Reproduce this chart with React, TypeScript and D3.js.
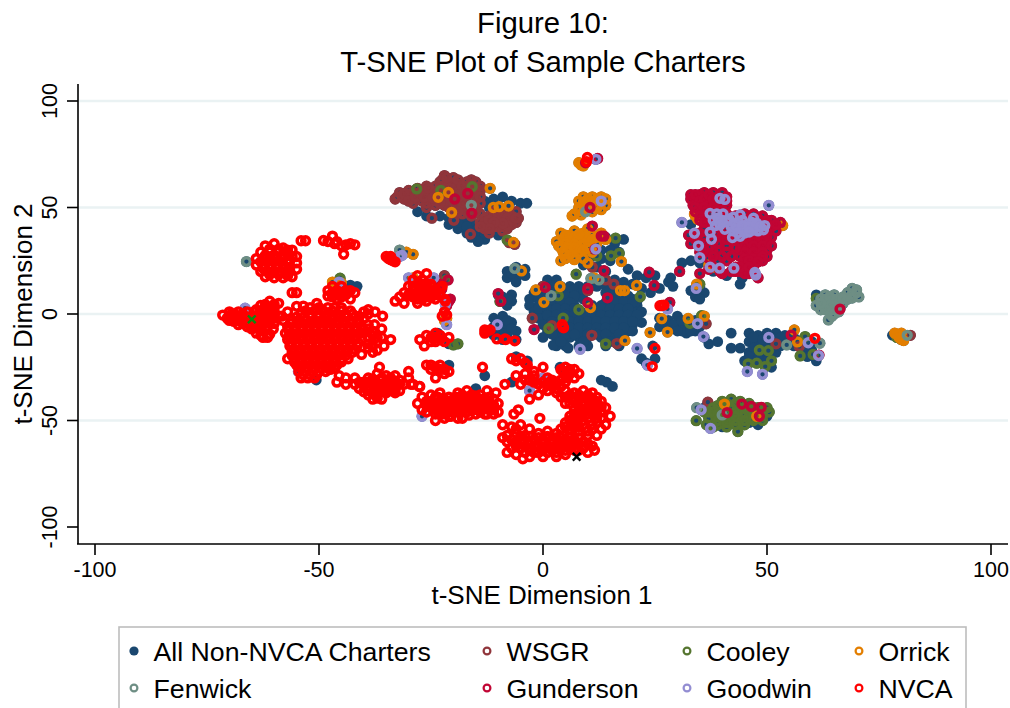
import * as d3 from "d3";

type P = number[];

const W = 1010;
const H = 708;

const xTicks = [-100, -50, 0, 50, 100];
const yTicks = [-100, -50, 0, 50, 100];
const gridTicks = [-50, 0, 50, 100];

const nonNvca: P[] = [
  // central mass
  [1,16],[3,16],[11,16],[14,16],[16,16],
  [0,13],[2,13],[4,13],[6,13],[8,13],[10,13],[12,13],[14,13],[16,13],
  [-2,10],[0,10],[2,10],[4,10],[6,10],[8,10],[14,10],[16,10],[18,10],
  [-3,7],[-1,7],[1,7],[3,7],[5,7],[7,7],[9,7],[16,7],[18,7],[20,7],
  [-3,4],[-1,4],[1,4],[3,4],[5,4],[7,4],[11,4],[13,4],[15,4],[17,4],[19,4],[21,4],
  [-2,1],[0,1],[2,1],[4,1],[6,1],[8,1],[10,1],[12,1],[14,1],[16,1],[18,1],[20,1],[22,1],
  [-1,-2],[1,-2],[3,-2],[5,-2],[7,-2],[9,-2],[11,-2],[13,-2],[15,-2],[17,-2],[19,-2],[21,-2],
  [0,-5],[2,-5],[4,-5],[6,-5],[8,-5],[10,-5],[12,-5],[14,-5],[16,-5],[18,-5],[20,-5],
  [1,-8],[3,-8],[5,-8],[7,-8],[9,-8],[11,-8],[13,-8],[15,-8],[17,-8],[19,-8],
  [0,-11],[3,-11],[6,-11],[8,-11],[10,-11],[13,-11],[16,-11],[18,-11],
  [3,-15],[5,-15],[8,-15],[10,-15],[14,-15],[17,-15],
  // above central mass, under the Orrick clump
  [12,34],[14,36],[16,33],[18,35],[13,30],[15,30],[17,29],[11,27],[13,26],[15,25],[9,23],[12,22],[14,20],
  // behind WSGR
  [-23,46],[-21,42],[-19,40],[-17,38],[-15,36],[-13,35],[-15,42],[-17,44],[-14.5,34],[-28,48],[-26,46],
  [-13,53],[-11,54],[-9,55],[-7,53],[-5,52],[-3.6,52],[-12,50],[-19,46],[-10,37],
  [-21,45],[-19,43],[-17,41],[-15,39],[-13,38],[-16,36],
  // small groups left of centre
  [-8,20],[-6,22],[-4,21],[-8,17],[-6,17],[-4,18],[-6,15],[-7,19],[-5,19],
  [-10,9],[-9,6],[-7,9],[-7,6],[-8,4],[-9,8],[-8,7],
  [-11,-2],[-9,-1],[-9,-5],[-7,-4],[-11,-6],[-8,-9],[-6,-8],[-6,-12],[-9,-12],[-11,-10],[-10,-3.5],[-8,-3],[-10,-8],[-7,-7],[-8,-11],
  [-23.5,-9],[-21,-14],[-21,-24],[-43,13.6],[-41.5,13],[-50.6,-31],
  [-6,-20],[-3.5,-22],[-13,-29],[14.2,-32],[13,-31],[15.5,-34],[3.8,-25],[-7,-32],[-15,-35],[2.3,-14.6],[5.6,-16],
  // right of centre
  [19,21],[21,18],[23,17],[25,18],[18,15],[20,14],[22,12],[24,10],[26,12],[18,9],[21,6],[28,15],[28.5,17],[29,13],
  [33,11],[35,13],[36,10],[34,8],[35,7],
  [18,-1],[20,-3],[22,-4],[18,-6],[20,-8],
  [26,-2],[28,-3],[30,-1],[32,-5],[34,-3],[36,-4],[26,-6],[28,-6],[30,-6],[32,-9],[34,-8],[36,-11],[37,-14],[31,-8],[24.5,-15],[23,-23],[22,-21],[25,-21],
  [27,-4],[29,-5],[31,-3],[33,-6],[35,-6],[30,-8],[33,-8],
  // right group
  [42,-9],[44,-16],[46,-9],[48,-10],[50,-9],[52,-9],[54,-10],[56,-11],[58,-12],[60,-13],
  [46,-13],[48,-14],[50,-14],[52,-12],[54,-13],[56,-15],[58,-17],[60,-17],
  [46,-18],[48,-19],[50,-20],[52,-18],[47,-22],[49,-23],[51,-25],[45,-22],[59,-20],[61,-22],
  [39,-13],[42,-16],[47,-11],[49,-12],[51,-11],[53,-11],[55,-12],[47,-16],[49,-17],[51,-16],[53,-15],[46,-20],[48,-21],[50,-22],
  // lower right group
  [36,-44],[38,-50],[40,-53],[42,-50],[44,-52],[46,-51],[48,-52],[50,-48],
  // gunderson backing
  [33,25],[31,24],[35,24],[44,14],[44.5,17],[41,18],[38,20],[33,42],
  // far right and Fenwick backing
  [78,-10],[80,-12],[61,9],[63,6],[65,4],
  // filling the central mass
  [1,14.5],[3,14.5],[5,11.5],[7,11.5],[9,11.5],[15,11.5],[17,11.5],[1,8.5],[3,8.5],[5,8.5],[7,8.5],[15,8.5],[17,8.5],[19,8.5],
  [0,5.5],[2,5.5],[4,5.5],[6,5.5],[14,5.5],[16,5.5],[18,5.5],[20,5.5],[-1,2.5],[1,2.5],[3,2.5],[5,2.5],[7,2.5],[11,2.5],[13,2.5],[15,2.5],[17,2.5],[19,2.5],
  [1,-0.5],[3,-0.5],[5,-0.5],[7,-0.5],[9,-0.5],[11,-0.5],[13,-0.5],[15,-0.5],[17,-0.5],[19,-0.5],[21,-0.5],
  [2,-3.5],[4,-3.5],[6,-3.5],[8,-3.5],[10,-3.5],[12,-3.5],[14,-3.5],[16,-3.5],[18,-3.5],[20,-3.5],
  [2,-6.5],[4,-6.5],[6,-6.5],[8,-6.5],[10,-6.5],[12,-6.5],[14,-6.5],[16,-6.5],[18,-6.5],
  [2,-9.5],[5,-9.5],[7,-9.5],[10,-9.5],[12,-9.5],[14,-9.5],[17,-9.5],[4,-13],[9,-13],[15,-13],
];

const wsgr: P[] = [
  [-33,54],[-32,57],[-31,54],[-30,58],[-30,55],[-29,52],[-28,56],[-28,59],[-27,53],[-26,57],[-26,60],[-26,50],
  [-25,54],[-25,58],[-24,51],[-24,56],[-24,60],[-23,62],[-22,65],[-21,62],[-21,59],[-20,64],[-19,61],[-23,58],
  [-22,55],[-20,56],[-22,51],[-20,52],[-18,58],[-18,54],[-18,50],[-16,63],[-16,59],[-16,55],[-15,62],[-14,58],
  [-14,52],[-20,48],[-18,47],[-16,46],[-14,47],[-12,46],[-12,42],[-11,48],[-10,45],[-10,41],[-9,47],[-8,43],
  [-8,40],[-7,46],[-6,43],[-6,48],[-12,38],[-14,43],[-24.8,45],[-19.9,44],[-16.2,37.5],[-6.3,32.7],[-7.5,33.5],
  [-13,40],[-11,44],[-9,41],[-7,42],
  [-2.4,-2],[2,-5.5],[10.9,-10],[16.5,-13.9],[11,22],[14,16],[15.8,14],[10,11],[0,13],[36.4,-4.6],[52,-14],[57.2,-15.3],[36.8,-41.4],[82,-10],[-22,18],
  // filling the main clump
  [-31.5,55.5],[-30.5,56.5],[-29,54],[-29,57],[-27,55],[-27,58],[-26,52],[-25,56],[-24,53],[-23,55],[-23,60],[-22,57],[-22,60],[-21,53],[-20,61],[-20,58],[-19,54],[-19,57],[-19,50],
  [-17,60],[-17,57],[-17,52],[-15,57],[-15,59],[-15,54],[-17,48],[-15,48],[-13,45],[-11,46],[-11,41],[-9,44],[-9,39],[-7,44],[-13,43],[-5.5,45],[-8,47.5],[-21,50],[-23,52],
  [-32.5,55],[-31,56.5],[-30,53],[-28.5,55],[-27.5,57],[-26.5,55],[-25.5,59],[-24.5,54.5],[-23.5,57],[-22.5,63],[-21.5,64],[-22,59],[-21,56],[-20.5,54],[-19.5,59],[-19,63],[-18,60],[-18,56],[-18,52],[-17,62],[-17,55],[-16,57],[-16,61],[-16,52],[-16,49],[-15,50],[-14,55],[-14,60],[-19,48],[-12,44],[-10,47],[-10,43],[-8,45],[-8,41.5],[-6,45],[-9,42.5],[-11,43],[-12,40],[-14,41],
];

const cooley: P[] = [
  [-28.2,58.7],[-15.8,59.8],[-22.8,58],[-8,34.7],[7.4,18.7],[16.2,35.6],[15.2,27.3],[17,28.4],[12,27.2],[3.4,8.6],
  [-9.6,5.9],[1.3,-6.8],[8,2],[14,-14],[4.5,-2],[-19,-14],[-21.5,16],[-45.3,16.8],[-20,-14.5],
  [21.7,8.1],[35.4,-0.8],[32.8,-4.4],[48.3,-17],[50.3,-17.2],[45.8,-23.4],[47.7,-23.1],[49.6,-24.7],[51,-22],[57.4,-19.7],[60.3,-19],[58.5,-10.6],[61,7.3],[35,14],
  [34.2,-50.1],[43.5,-55.2],[36,-46],[37,-49],[38,-44],[38.5,-48],[39,-52],[40,-41],[40,-45],[40.5,-49],[41,-53],[42,-40],[42,-44],[42.5,-47],[43,-50],
  [44,-41],[44,-45],[44.5,-48],[45,-52],[46,-42],[46,-46],[46.5,-49],[48,-44],[48,-47],[49,-50],[50,-44],[50.5,-46],[79,-11],[38,-53],[36.5,-52],
  // filling the lower right clump
  [37,-46],[38,-46],[39,-43],[39,-47],[39,-50],[41,-42],[41,-46],[41,-50],[43,-42],[43,-46],[43,-48],[45,-44],[45,-47],[45,-50],[47,-44],[47,-47],[47,-50],[49,-46],[49,-48],[41,-51],[43,-52],
];

const orrick: P[] = [
  [-23.4,54.8],[-21.1,57.1],[-20.4,47.7],[-11.8,59],[-11.1,50],[-9.8,50.4],[-7.7,50.7],[-6.6,33.6],[-4.8,20.2],[-1.6,11.3],[0.2,5.5],[3.8,12.9],
  [17.5,24.6],[11.4,17],[17.3,11],[18.2,11],[10.6,3],[18.3,-12.5],
  [33.8,47],[20.9,13.4],[26.5,-2.2],[32.4,-2.1],[23.9,-8.7],[27.8,-8.5],[56.1,-7.5],[56.8,-13.1],[40.5,-42.3],[47.7,-48],[53.5,41.5],[34.3,14],
  [36,-1],[34,46],[34.5,44.5],[37,23],[38,22],
  [8,53],[9,55],[10,54],[11,55],[12,54],[13,55],[14,54],[8,50],[10,51],[12,51],[14,51],[7,47],[9,48],[11,48],[13,49],
  [4,38],[5,35],[6,37],[6,33],[7,39],[8,35],[8,31],[9,38],[10,34],[10,40],[11,37],[12,33],[13,38],[14,35],[4,31],[3,34],[5,28],[6,30],[4,25],[9,26],[11,29],[10,24],[7,27],
  [8,71],[8.5,70],[9,69.5],[78.5,-9],[79.5,-10],[80,-12],[80,-9],[79.5,-11],[80.5,-12.5],[79,-9.5],[-30.5,29],[-29,28],[-45,14.5],[-47,15],[-24.2,13],[-21.5,-2],[-28,14],[-22,-3],[-29,17],
  // filling the two orange clumps
  [9,52.5],[11,52.5],[13,52.5],[8,48.5],[10,49.5],[12,49.5],[6.5,46],[8.5,46.5],[5,37],[7,36],[7,33],[9,36],[9,33],[11,35],[5,33],[4.5,29],[6,28],[8,29],[10,31],[8,37.5],[12,36],[3.5,32],[5.5,31],[7,31],[9,30],[7,25.5],[5,26],
];

const fenwick: P[] = [
  [-16,51],[9.5,48],[-32,30],[-6.3,21.4],[10.7,16.7],[1.8,8.6],[-66.2,24.6],[12.5,16],
  [54.4,-14.5],[61.8,-13.7],[40,-47.4],[34.3,-44],[81.3,-10],
  [62,7],[63,9],[64,6],[65,9],[66,7],[67,8],[68,10],[69,9],[70,11.3],[70.5,8],[69,12],[62,2],[63,4],[64,2],[65,4],[66,1],[63.7,-2.8],[64.5,-1],[67,5],[61,4],[65,7],[68,7],
  [63,7],[64,8],[66,5],[64,4],[63,2],[65,2],[65,0],[67,7],[69,7.5],[70,10],[62,5],
];

const gunderson: P[] = [
  // main clump
  [33,56],[34,54],[35,56],[36,57],[37,54],[38,57],[39,55],[40,57],[41,55],[33.5,51],[35,51],[37,51],[39,51],[41,51],[34,48],[36,48],
  [35,44],[37,44],[39,44],[41,47],[43,46],[45,47],[47,47],[49,46],[51,44],[43,43],[45,44],[47,44],[49,43],[51,41],[53,43],[52,39],
  [43,40],[45,40],[47,40],[49,40],[44,36],[46,36],[48,36],[50,36],[44,33],[46,33],[48,33],[50,33],[44,30],[46,30],[48,30],[50,30],[44,27],[46,27],[48,27],[50,27],[45,24],[47,24],[49,25],
  [36,40],[38,40],[40,37],[36,36],[38,34],[34,35],[34,37],[32.5,37],[33,33],[36,33],[39,30],[41,32],[35,29],[38,29],[41,29],[37,26],[39,25],[41,25],[30.5,20],[35,19],[39.5,20],
  [42,20],[44,20],[45,21],[46,19],[47,22],[48,17],[43,22],[40,19],[37,21],
  // filling the main clump
  [33,54],[34,56],[35,53],[36,54],[37,56],[38,54],[39,53],[40,54],[41,53],[34,50],[36,50],[38,50],[40,49],[35,46],[37,47],[39,47],[36,43],[38,42],[40,42],[42,44],
  [44,45],[46,45],[48,45],[50,44],[52,42],[44,42],[46,42],[48,42],[50,42],[44,38],[46,38],[48,38],[50,38],[51,36],[45,35],[47,35],[49,35],[45,32],[47,32],[49,32],[51,32],[45,29],[47,29],[49,29],[45,26],[47,26],[49,27],[46,25],[48,24.5],
  [37,38],[39,38],[41,37],[35,38],[35,33],[37,31],[39,33],[41,35],[36,30],[40,27],[38,27],[43,35],[43,38],[43,31],[42,27],
  [43,20],[45,19],[44,22],[46,22],[47,20],
  // scattered
  [-19.7,54],[-16.8,56.6],[-15.9,47.3],[11,41.3],[13,36.6],[13.6,36.6],[11.6,30.4],[0.5,12.5],[13.6,20.3],[14.4,7.6],[10,5.3],[-10,9.6],[-9.4,6],[-2,-7.3],[4.4,-6],[-22.7,12],[-20.7,7],[10,12],
  [23.7,19.6],[24.8,13.4],[28.3,5.4],[55.4,-9.9],[61.6,-19.3],[66.3,2.3],[41.1,-46.3],[44.4,-42.3],[46.5,-43.4],[48.7,-43.8],[48.3,-48],
  [-21,6],[-21.5,4],[-22.6,11.7],[-25,14],[-21.2,16],[-45.5,12],[12.2,73],[9.5,71],[10.5,50],[-23,14],
];

const goodwin: P[] = [
  [39.5,54.3],[40.6,53.8],[37.3,47.2],[38.8,47],[40.2,47],[44,46.5],[41,43.3],[39.5,41.8],[38.5,41.5],[40.6,39.8],[37.3,38.4],[37.6,35.1],[42.3,35.9],[34.7,32],[35,26.4],[33.8,37.9],[31,43],[50.4,51],
  [42.5,39],[44,40],[45,38],[46.6,43],[47.7,42.6],[49.2,39.5],[43.6,43.3],[45.5,41.8],[47,39.4],[44.5,44],[42,41],[45,40],[46,40.5],[48,41],[47,45],[37.3,22],[39.4,21.5],[42.6,21.5],[47.5,18.3],[47.3,19.5],
  [43,41.5],[44.5,41.5],[46,41],[48,39],[43.5,38],[46,38.5],[41.5,44.5],[42.5,45.5],[40,44],[38,44],[39,45],[48.5,41],[49.5,41.5],[44,36.5],
  [34.2,12],[27.8,2.4],[34.5,-4.5],[35.8,-10.6],[50.4,-11],[59.2,-13.5],[61.5,-19.5],[45.6,-27],[49,-28.3],[21,-16.2],[23.3,-24],[35.3,-45],[37.4,-53.7],
  [13,53],[11.8,30.5],[-32,27],[-24.4,17],[-10.2,-5],[8.3,-16.5],[11.8,72.6],[-30,17],[-45.5,15],[-66.5,2.7],[-54.6,-27],[-31.5,27.5],[0,-30],[-3,-36],[-21.5,-5],[-27,-48],[-21.8,4.5],
];

const nvca: P[] = [
  // big blob
  [-50,3],[-48,3],[-46.5,3],[-45,3],
  [-54,0],[-52,0],[-50,0],[-48,0],[-46,0],[-44,0],[-42.5,0],
  [-56,-3],[-54.5,-3],[-53,-3],[-51,-3],[-49.5,-3],[-48,-3],[-46,-3],[-44.5,-3],[-43,-3],[-41.5,-3],
  [-57,-6],[-55.5,-6],[-54,-6],[-52.5,-6],[-51,-6],[-49.5,-6],[-48,-6],[-46.5,-6],[-45,-6],[-43.5,-6],[-42,-6],[-40.5,-6],
  [-57.5,-9],[-56,-9],[-54.5,-9],[-53,-9],[-51.5,-9],[-50,-9],[-48.5,-9],[-47,-9],[-45.5,-9],[-44,-9],[-42.5,-9],[-41,-9],
  [-57,-12],[-55.5,-12],[-54,-12],[-52.5,-12],[-51,-12],[-49.5,-12],[-48,-12],[-46.5,-12],[-45,-12],[-43.5,-12],[-42,-12],[-40.5,-12],
  [-56.5,-15],[-55,-15],[-53.5,-15],[-52,-15],[-50.5,-15],[-49,-15],[-47.5,-15],[-46,-15],[-44.5,-15],[-43,-15],[-41.5,-15],
  [-56,-18],[-54.5,-18],[-53,-18],[-51.5,-18],[-50,-18],[-48.5,-18],[-47,-18],[-45.5,-18],[-44,-18],[-42.5,-18],
  [-57,-21],[-55.5,-21],[-54,-21],[-52.5,-21],[-51,-21],[-49.5,-21],[-48,-21],[-46.5,-21],[-45,-21],[-43.5,-21],
  [-55,-24],[-53.5,-24],[-52,-24],[-50.5,-24],[-49,-24],[-47.5,-24],[-46,-24],
  [-54.5,-27],[-53,-27],[-51.5,-27],[-50,-27],[-48.5,-27],
  [-54,-30],[-52.5,-30],[-51,-30],
  [-55,10],[-56,10],[-55,3.6],[-53.5,3.7],[-50.5,5],[-52,3],[-40.5,-19],
  // big blob, second pass between the rows above
  [-49,1.5],[-47,1.5],[-45,1.5],[-53,1.5],[-51,1.5],[-43,1.5],
  [-55,-1.5],[-53.3,-1.5],[-51.7,-1.5],[-50.2,-1.5],[-48.6,-1.5],[-47,-1.5],[-45.3,-1.5],[-43.8,-1.5],[-42,-1.5],
  [-56.3,-4.5],[-54.8,-4.5],[-53.2,-4.5],[-51.8,-4.5],[-50.2,-4.5],[-48.7,-4.5],[-47.2,-4.5],[-45.7,-4.5],[-44.2,-4.5],[-42.7,-4.5],[-41.2,-4.5],
  [-56.8,-7.5],[-55.2,-7.5],[-53.7,-7.5],[-52.2,-7.5],[-50.7,-7.5],[-49.2,-7.5],[-47.6,-7.5],[-46.2,-7.5],[-44.7,-7.5],[-43.2,-7.5],[-41.7,-7.5],[-40.2,-7.5],
  [-56.7,-10.5],[-55.2,-10.5],[-53.8,-10.5],[-52.2,-10.5],[-50.8,-10.5],[-49.2,-10.5],[-47.7,-10.5],[-46.3,-10.5],[-44.8,-10.5],[-43.2,-10.5],[-41.8,-10.5],
  [-56.2,-13.5],[-54.7,-13.5],[-53.2,-13.5],[-51.7,-13.5],[-50.2,-13.5],[-48.7,-13.5],[-47.2,-13.5],[-45.7,-13.5],[-44.2,-13.5],[-42.7,-13.5],[-41.2,-13.5],
  [-55.7,-16.5],[-54.2,-16.5],[-52.7,-16.5],[-51.2,-16.5],[-49.7,-16.5],[-48.2,-16.5],[-46.7,-16.5],[-45.2,-16.5],[-43.7,-16.5],[-42.2,-16.5],
  [-56,-19.5],[-54.5,-19.5],[-53,-19.5],[-51.5,-19.5],[-50,-19.5],[-48.5,-19.5],[-47,-19.5],[-45.5,-19.5],[-44,-19.5],
  [-55.5,-22.5],[-54,-22.5],[-52.5,-22.5],[-51,-22.5],[-49.5,-22.5],[-48,-22.5],[-46.5,-22.5],[-45,-22.5],
  [-54,-25.5],[-52.5,-25.5],[-51,-25.5],[-49.5,-25.5],[-48,-25.5],[-46.5,-25.5],
  [-53.5,-28.5],[-52,-28.5],[-50.5,-28.5],
  // upper left blob
  [-62,32],[-60,33],[-58,31],[-56,30],[-63,29],[-61,29],[-59,29],[-57,28],[-55,27],
  [-64,26],[-62.5,26],[-61,26],[-59.5,26],[-58,26],[-56.5,25],[-55,24],
  [-64,23],[-62.5,23],[-61,23],[-59.5,23],[-58,23],[-56.5,22],[-55,21],
  [-63,20],[-61.5,20],[-60,20],[-58.5,20],[-57,19],[-62,17.5],[-60,17],[-58,17],[-56,17.5],
  [-61,30.5],[-59,30.5],[-57,30],[-62,27.5],[-60,27.5],[-58,27.5],[-56,27],[-63,24.5],[-61.5,24.5],[-60,24.5],[-58.5,24.5],[-57,24],[-62.5,21.5],[-61,21.5],[-59.5,21.5],[-58,21.5],[-56.5,20],[-61,18.5],[-59,18.5],[-57,18],
  // far left group
  [-71.5,-0.5],[-70,1],[-69,-1],[-68,-3],[-70,-3],[-67,0],[-66,-4],[-65,-1],[-64,2],[-63,4],[-61,6],[-61,3],[-59,5],[-62,0],[-60,1],[-63,-2],[-61,-3],[-59,-1],[-58.3,-1],[-57,1],
  [-66,-6],[-64,-5],[-62,-7],[-60.2,-7],[-62.5,-11],[-64,-9],[-61,-9.5],[-68,-5],[-65,-7],[-58,-3],
  [-70,-1],[-68.5,-0.5],[-67.5,-1.5],[-66.5,-2],[-65,-3],[-63.5,0],[-62,2],[-60,3],[-61,-1],[-63,-4],[-64.5,-6],[-62.5,-5],[-63,-8],[-60,-2],[-69,-3.5],[-67,-4.5],[-62,4.5],[-60,4.5],
  [-70.5,-2],[-69.5,0],[-68,1],[-66,1],[-66,-2],[-64.5,1],[-63,1.5],[-61.5,1.5],[-60,-0.5],[-62,-2.5],[-64,-3],[-65.5,-5],[-63.5,-6.5],[-61.5,-6],[-63,-10],[-61.5,-11],[-60,-4.5],
  // top singles
  [-54,34.4],[-53,34.4],[-49,34.5],[-48,34],[-47,36.6],[-46.5,33],[-46,34],[-45,32],[-44,32.4],[-43,33],[-42,32.5],[-44.5,28],
  // -46,12 cluster
  [-48,11],[-47,13],[-46,11],[-45,13],[-44,11],[-47,8],[-45,8],[-43,7],[-42,10],[-48,8.5],[-43,11],[-47,10],[-45,10],[-44,9],[-46,7],
  // -34,26
  [-35,27],[-34.5,26],[-34,25.5],[-33.5,25],[-33,24.5],[-34,27],
  // -27,12 cluster
  [-33,6],[-32,8],[-31,10],[-30,13],[-29,16],[-28,18],[-27,16],[-29,11],[-27,12],[-25,14],[-31,5],[-29,8],[-27,9],[-25,10],[-23,9],[-24,7],[-26,6],[-28,5],[-24.5,11],[-26,19],[-23,12],
  [-28,14],[-28,10],[-26,11],[-26,14],[-30,9],[-28,7],[-26,8],[-24,9],[-27,14],[-27,7],[-25,8],[-29,13],
  // -22,3 column
  [-22,7],[-21.8,6],[-22,1],[-22.5,-1],[-21.5,-0.5],
  // right of big blob
  [-41,-1],[-39,2],[-37.5,1],[-39,0],[-35.8,-1],[-41,-4],[-39,-5],[-37.6,-5],[-36,-7],[-40,-9],[-38,-10],[-36,-11],[-34,-12],[-39,-14],[-37,-13],[-39,-16],[-37,-17],[-38,-18],[-35.5,-15],
  [-40,1],[-40,-2],[-39,-7],[-38,-8],[-39,-11],[-37,-11],[-38,-15],
  // lower band
  [-47.5,-26],[-45.5,-29],[-44,-30],[-42,-30],[-36.5,-25],[-39,-30],[-37,-28],[-35,-29],[-33,-29],[-40,-32],[-38,-32],[-36,-31],[-34,-31],[-32,-31],[-30,-30],
  [-41,-35],[-39,-35],[-37,-34],[-35,-34],[-33,-34],[-31,-33],[-29.5,-33],[-27.6,-34],[-30,-27],[-32,-36],
  [-39,-38],[-37,-38],[-35,-37],[-33,-37],[-38,-40],[-36,-40],[-42,-33],[-44,-33],[-46,-32],
  [-40,-33.5],[-38,-33.5],[-36,-33],[-34,-33],[-32,-33],[-40,-36.5],[-38,-36.5],[-36,-36],[-34,-36],[-38,-30.5],[-36,-30],[-34,-30],[-37,-39.5],
  [-41,-32],[-39,-32],[-37,-32.5],[-35,-32],[-33,-32],[-39,-36],[-37,-36],[-35,-35.5],[-33,-35.5],
  // -23,-12 and -23,-27 blobs
  [-27.5,-12],[-26.5,-15],[-26,-10],[-25,-11],[-24,-9],[-23,-10],[-24,-13],[-22,-13],[-21,-11],[-25,-13],[-24,-11],[-23,-12],
  [-26,-24],[-25,-24],[-24,-25],[-23,-26],[-22,-26],[-21,-27],[-24,-30],[-25,-26],[-23,-24],[-22,-28],
  // -19,-42 blob
  [-28,-42],[-27,-39],[-27,-45],[-26,-41],[-25,-38],[-25,-44],[-24,-47],[-23,-41],[-23,-37],[-22,-44],[-22,-49],[-21,-39],[-20,-46],[-20,-42],[-19,-37],[-19,-44],[-18,-40],[-18,-49],[-17,-46],[-17,-36],[-16,-43],[-16,-38],[-15,-47],[-15,-41],[-14,-38],[-14,-44],[-13,-47],[-13,-42],[-12,-39],[-12,-45],[-11,-43],[-10,-42],[-11,-47],[-10,-46],[-24,-50],[-19,-49],[-21,-48],[-12.5,-36],[-10.5,-37],
  [-26,-43],[-25,-41],[-24,-39],[-24,-43],[-23,-45],[-22,-40],[-22,-42],[-21,-44],[-21,-46],[-20,-40],[-19,-41],[-19,-46],[-18,-38],[-18,-43],[-18,-46],[-17,-41],[-17,-44],[-16,-40],[-16,-45],[-15,-38.5],[-15,-43],[-14,-41],[-14,-46],[-13,-39.5],[-13,-44.5],[-12,-42],[-11,-40],[-11,-45],[-24,-45],[-26,-46],
  [-25.5,-42.5],[-23.5,-43],[-22.5,-47],[-20.5,-44],[-20.5,-48],[-19.5,-39],[-17.5,-42],[-16.5,-47.5],[-15.5,-45],[-14.5,-42.5],[-12.5,-41],[-12.5,-47],[-23.5,-39],
  // -8,-27 singles
  [-29,-33],[-27.5,-34],[-13.5,-25],[0,-25],[-5.5,-45],[-6.5,-47],[-3,-40],[-0.7,-49],[15,-48],[-8.5,-33],[-7,-21],[-6,-22],[-5,-21],[-4,-23],[-3.5,-24],[-2,-27],
  // diagonal into the lower right lobe
  [-6,-29],[-5,-33],[-4,-28],[-3,-31],[-2,-29],[-1,-33],[0,-32],[1,-30],[1,-36],[2,-34],[3,-37],[3,-32],[4,-39],[5,-36],[5,-42],[-1,-38],
  [-4,-31],[-2,-32],[0,-35],[1,-33],[2,-31],[3,-35],[4,-34],[5,-32],
  // top of right lobe
  [4,-26],[5,-25],[6,-26],[7,-26],[8,-28],[5,-29],[7,-30],[4,-31],[6,-28],[4.5,-27],[5.5,-30],
  // right lobe
  [5,-39],[7,-37],[9,-36],[11,-37],[12,-39],[13,-41],[14,-44],[6,-42],[8,-40],[10,-40],[12,-43],[7,-45],[9,-43],[11,-44],[13,-46],[6,-48],[8,-47],[10,-47],[12,-49],[14,-52],[5,-51],[7,-50],[9,-50],[11,-52],[13,-54],[4,-54],[6,-54],[8,-53],[10,-55],[12,-57],
  [6,-38],[8,-38],[10,-38],[12,-41],[7,-41],[9,-41],[11,-41],[13,-43.5],[8,-44],[10,-44],[12,-46],[7,-47],[9,-46],[11,-47],[13,-49],[6,-50],[8,-49],[10,-49],[12,-51],[5,-53],[7,-52],[9,-52],[11,-54],[6,-56],[8,-55],[10,-57],
  // bottom band
  [-7,-53],[-5,-52],[-9,-52],[-3,-54],[-1,-56],[1,-55],[3,-56],[-6,-56],[-4,-57],[-2,-59],[0,-59],[2,-59],[4,-58],[6,-58],[8,-58],
  [-9,-58],[-8,-60],[-7,-59],[-5,-60],[-3,-61],[-1,-62],[1,-62],[3,-62],[5,-61],[7,-61],[9,-60],[10,-61],[11,-62],[11.5,-64],
  [-7,-63],[-5,-63],[-3,-64],[-1,-65],[1,-65],[3,-65],[5,-64],[7,-64],[9,-63],[-6,-66],[-3,-67],[0,-67],[3,-67],[5,-66],[-4.5,-68],[-8,-65],[10,-65],
  [-6,-54],[-5,-57.5],[-3,-57.5],[-1,-58],[1,-57.5],[3,-58],[5,-59],[7,-59],[-8,-57],[-6,-60],[-4,-62],[-2,-62],[0,-61],[2,-61],[4,-60],[6,-60],[8,-61],[-6,-62],[-4,-65],[-2,-65],[0,-64],[2,-64],[4,-63],[6,-63],[8,-64],
  // stray rings on other clusters
  [26.1,3.9],[26.5,4],[27,4.2],[60.7,-11.4],[25,-16.2],[24.4,-24.7],[9.9,73.5],[9.7,71.5],[4.3,-5],[4.6,-6.5],[-25,13],[-22.5,13],
  [-13,-9],[-12.5,-8],[-11.8,-7.5],[-13,-7.5],[-10.3,-11.7],[-8.5,-11.7],[-8.3,-12],[-6.3,-12.6],
];

const COLORS = {
  navy: "#1a476f",
  wsgr: "#90353b",
  cooley: "#55752f",
  orrick: "#e37e00",
  fenwick: "#6e8e84",
  gunderson: "#c10534",
  goodwin: "#938dd2",
  nvca: "#ff0000",
};

const rings: [P[], string][] = [
  [wsgr, COLORS.wsgr],
  [cooley, COLORS.cooley],
  [orrick, COLORS.orrick],
  [fenwick, COLORS.fenwick],
  [gunderson, COLORS.gunderson],
  [goodwin, COLORS.goodwin],
  [nvca, COLORS.nvca],
];

const legendItems = [
  { label: "All Non-NVCA Charters", color: COLORS.navy, col: 0, row: 0, solid: true },
  { label: "WSGR", color: COLORS.wsgr, col: 1, row: 0 },
  { label: "Cooley", color: COLORS.cooley, col: 2, row: 0 },
  { label: "Orrick", color: COLORS.orrick, col: 3, row: 0 },
  { label: "Fenwick", color: COLORS.fenwick, col: 0, row: 1 },
  { label: "Gunderson", color: COLORS.gunderson, col: 1, row: 1 },
  { label: "Goodwin", color: COLORS.goodwin, col: 2, row: 1 },
  { label: "NVCA", color: COLORS.nvca, col: 3, row: 1 },
];
const legendX = [134, 487, 687, 859];
const legendY = [651, 688];

const crosses = [
  { at: [-65, -2.5], color: "#0b8a12" },
  { at: [7.5, -67], color: "#000000" },
];

const x = d3.scaleLinear().domain([-100, 100]).range([95, 991]);
const y = d3.scaleLinear().domain([-100, 100]).range([527, 101]);

const FONT = "'Liberation Sans', Arial, sans-serif";

export default function App() {
  // every firm's charter is also in the non-NVCA pool, so it gets a navy dot behind its ring
  const navyDots = [...nonNvca, ...wsgr, ...cooley, ...orrick, ...fenwick, ...gunderson, ...goodwin];
  return (
    <svg
      width={W}
      height={H}
      viewBox={`0 0 ${W} ${H}`}
      style={{ position: "absolute", left: 0, top: 0, background: "#fff" }}
      fontFamily={FONT}
    >
      <text x={543} y={33} fontSize={29.3} textAnchor="middle">Figure 10:</text>
      <text x={543} y={72} fontSize={29.3} textAnchor="middle">T-SNE Plot of Sample Charters</text>

      {gridTicks.map((t) => (
        <line key={t} x1={78} x2={1008} y1={y(t)} y2={y(t)} stroke="#eaf2f3" strokeWidth={2.4} />
      ))}

      {navyDots.map((d, i) => (
        <circle key={i} cx={x(d[0])} cy={y(d[1])} r={5.4} fill={COLORS.navy} />
      ))}
      {rings.map(([pts, color]) =>
        pts.map((d, i) => (
          <circle
            key={color + i}
            cx={x(d[0])}
            cy={y(d[1])}
            r={3.9}
            fill="none"
            stroke={color}
            strokeWidth={3.5}
          />
        )),
      )}
      {crosses.map((c) => {
        const d = d3.symbol().type(d3.symbolX).size(40)();
        return (
          <path
            key={c.color}
            d={d ?? ""}
            transform={`translate(${x(c.at[0])},${y(c.at[1])})`}
            fill="none"
            stroke={c.color}
            strokeWidth={2.4}
          />
        );
      })}

      <line x1={78} x2={78} y1={84} y2={544} stroke="#000" strokeWidth={1.6} />
      <line x1={77} x2={1008} y1={544} y2={544} stroke="#000" strokeWidth={1.6} />
      {yTicks.map((t) => (
        <g key={t}>
          <line x1={67} x2={78} y1={y(t)} y2={y(t)} stroke="#000" strokeWidth={1.6} />
          <text
            transform={`translate(57,${y(t)}) rotate(-90)`}
            fontSize={21.5}
            textAnchor="middle"
          >
            {t}
          </text>
        </g>
      ))}
      {xTicks.map((t) => (
        <g key={t}>
          <line x1={x(t)} x2={x(t)} y1={544} y2={555} stroke="#000" strokeWidth={1.6} />
          <text x={x(t)} y={577} fontSize={21.5} textAnchor="middle">{t}</text>
        </g>
      ))}
      <text x={542} y={604} fontSize={26} textAnchor="middle">t-SNE Dimension 1</text>
      <text transform="translate(32,314) rotate(-90)" fontSize={26} textAnchor="middle">t-SNE Dimension 2</text>

      <rect x={119} y={627} width={847} height={100} fill="#fff" stroke="#bdbdbd" strokeWidth={1.6} />
      {legendItems.map((it) => (
        <g key={it.label}>
          {it.solid ? (
            <circle cx={legendX[it.col]} cy={legendY[it.row]} r={4.6} fill={it.color} />
          ) : (
            <circle cx={legendX[it.col]} cy={legendY[it.row]} r={3.4} fill="none" stroke={it.color} strokeWidth={2.2} />
          )}
          <text x={legendX[it.col] + 19.5} y={legendY[it.row] + 10} fontSize={26.7}>{it.label}</text>
        </g>
      ))}
    </svg>
  );
}
